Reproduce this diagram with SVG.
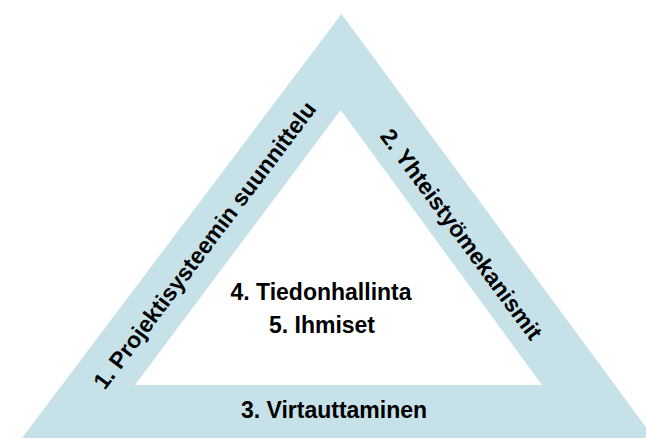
<svg xmlns="http://www.w3.org/2000/svg" width="646" height="440" viewBox="0 0 646 440">
<style>
.t{font-family:"Liberation Sans",Arial,sans-serif;font-weight:bold;font-size:23px;fill:#000;text-anchor:middle}
</style>
<rect width="646" height="440" fill="#fff"/>
<g id="triangle">
<path d="M341.5,14 L654,438 L22,438 Z M340.7,110 L135,385 L542,385 Z" fill="#c7e1e8" fill-rule="evenodd"/>
</g>
<g id="side1"><text class="t" transform="translate(211,250) rotate(-53)">1. Projektisysteemin suunnittelu</text></g>
<g id="side2"><text class="t" transform="translate(455,239) rotate(53.6)">2. Yhteistyömekanismit</text></g>
<g id="side3"><text class="t" x="334" y="418">3. Virtauttaminen</text></g>
<g id="center">
<text class="t" x="321" y="300">4. Tiedonhallinta</text>
<text class="t" x="322" y="333">5. Ihmiset</text>
</g>
</svg>
